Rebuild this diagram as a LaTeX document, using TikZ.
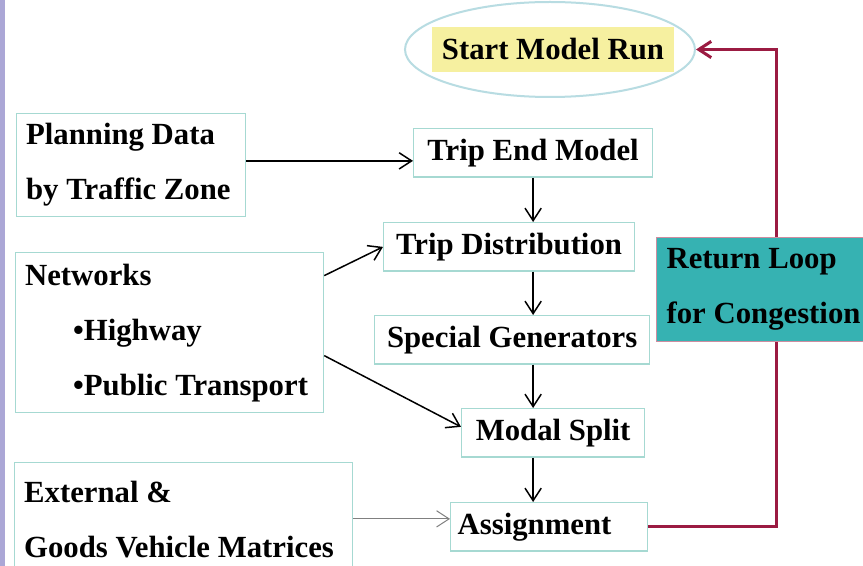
\documentclass[tikz,border=0pt]{standalone}
\usepackage{fontspec}
\setmainfont{Liberation Serif}
\usetikzlibrary{shapes.geometric,arrows.meta}

\definecolor{boxline}{HTML}{A6D9D2}
\definecolor{loopred}{HTML}{9B1B42}
\definecolor{loopfill}{HTML}{36B2B2}
\definecolor{startfill}{HTML}{F6F0A0}
\definecolor{ellline}{HTML}{B8DCE2}
\definecolor{sidebar}{HTML}{ABA7D6}

\tikzset{
  lbl/.style={font=\bfseries\fontsize{12.3pt}{22pt}\selectfont},
  procbox/.style={lbl, draw=boxline, line width=0.5pt, fill=white, anchor=north west, inner sep=0pt, minimum height=19.4pt},
  inbox/.style={lbl, draw=boxline, line width=0.5pt, fill=white, anchor=north west, align=flush left, inner xsep=3.8pt, inner ysep=0pt},
  startell/.style={ellipse, draw=ellline, line width=0.8pt, fill=white, minimum width=116pt, minimum height=38pt},
  flow/.style={->, line width=0.6pt},
  loopline/.style={->, draw=loopred, line width=1.2pt},
}

\begin{document}
\begin{tikzpicture}[x=0.4pt, y=-0.4pt, >={Straight Barb[length=5pt,width=6.5pt]}]
    \useasboundingbox (0,0) rectangle (863,566);
    \clip (0,0) rectangle (863,566);
    \fill[white] (0,0) rectangle (863,566);
    \fill[sidebar] (0,0) rectangle (5,566);

    % Start of the run
    \node[startell] (startell) at (550,49.5) {};
    \node[lbl, fill=startfill, minimum width=97pt, minimum height=18pt, inner sep=0pt] (start) at (553,49.5) {Start Model Run};

    % Input data
    \node[inbox, text width=84pt, minimum height=41.2pt] (plan) at (16,113)
        {\mbox{Planning Data}\\\mbox{by Traffic Zone}};
    \node[inbox, text width=115.6pt, minimum height=64pt] (net) at (15,252)
        {Networks\\\hspace*{19.2pt}\textbullet Highway\\\hspace*{19.2pt}\mbox{\textbullet Public Transport}};
    \node[inbox, text width=127.6pt, minimum height=45.2pt] (ext) at (14,462)
        {\mbox{External \&}\\\mbox{Goods Vehicle Matrices}};

    % Model stages
    \node[procbox, minimum width=95.6pt] (tem) at (413,128) {Trip End Model};
    \node[procbox, minimum width=100.4pt] (tdist) at (383,222) {Trip Distribution};
    \node[procbox, minimum width=110pt] (spec) at (374,315) {Special Generators};
    \node[procbox, minimum width=73.2pt] (modal) at (461,408) {Modal Split};
    \node[procbox, minimum width=78.8pt] (assign) at (450,502) {\makebox[73.2pt][l]{Assignment}};

    % Flow between stages
    \draw[flow] ([yshift=-3.2pt]tem.west -| plan.east) -- ([yshift=-3.2pt]tem.west);
    \draw[flow] ([yshift=22.8pt]net.east) -- (tdist.west);
    \draw[flow] ([yshift=-9.2pt]net.east) -- ([yshift=2.4pt]modal.west);
    \draw[flow] (tem.south) -- (tem.south |- tdist.north);
    \draw[flow] (tem.south |- tdist.south) -- (tem.south |- spec.north);
    \draw[flow] (tem.south |- spec.south) -- (tem.south |- modal.north);
    \draw[flow] (tem.south |- modal.south) -- (tem.south |- assign.north);
    \draw[->, gray, line width=0.4pt] ([yshift=3.2pt]ext.east |- assign.west) -- ([yshift=3.2pt]assign.west);

    % Return loop
    \coordinate (loopcorner) at (777,49.5);
    \draw[loopline] (assign.east) -| (loopcorner) -- (startell.east);
    \node[inbox, text width=76pt, inner xsep=4pt, minimum height=41.6pt, fill=loopfill, draw=loopred!50] (loop) at (656,237)
        {\mbox{Return Loop}\\\mbox{for Congestion}};
\end{tikzpicture}
\end{document}
